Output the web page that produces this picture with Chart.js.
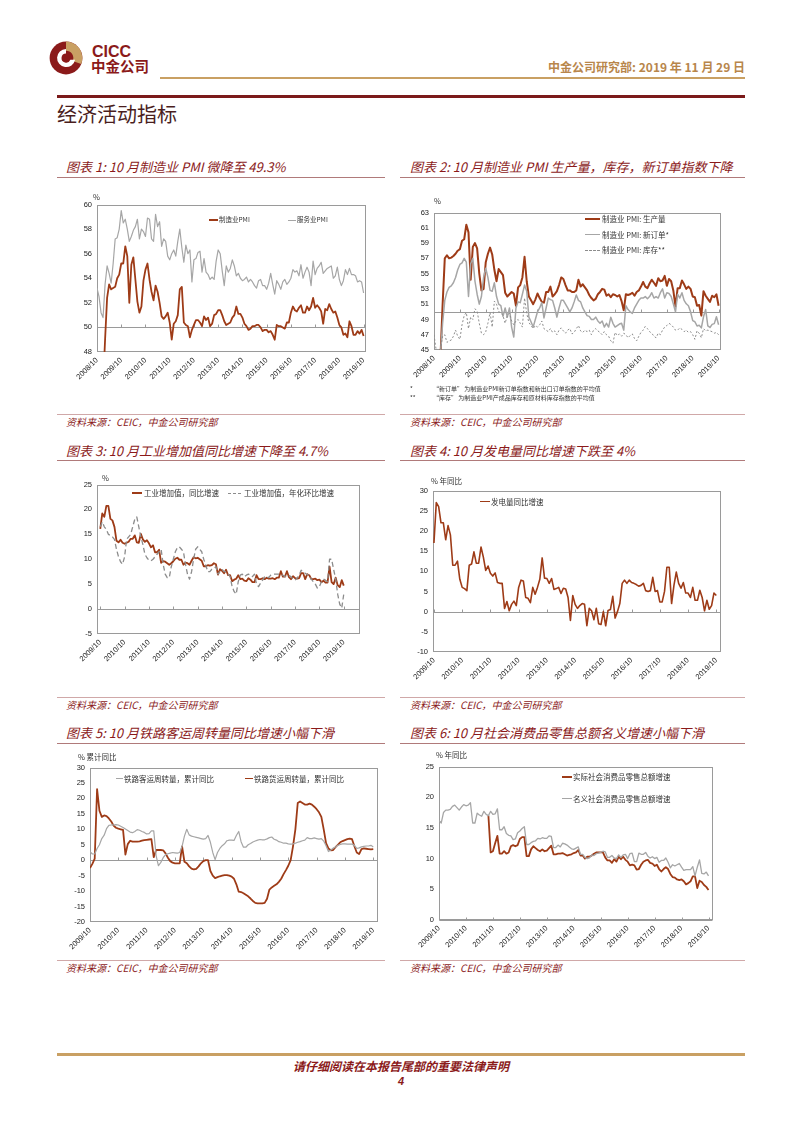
<!DOCTYPE html>
<html><head><meta charset="utf-8">
<script src="https://cdn.jsdelivr.net/npm/chart.js@4.4.1/dist/chart.umd.min.js"></script>
<style>
html,body{margin:0;padding:0;background:#fff}
body{width:802px;height:1133px;position:relative;overflow:hidden;font-family:"Noto Sans CJK SC","Noto Sans",sans-serif}
.a{position:absolute;white-space:nowrap;line-height:1}
.ttl{font-size:13px;font-style:italic;color:#8B1A1A}
.src{font-size:10px;font-style:italic;color:#8B1A1A}
.lg{font-size:7.5px;color:#333}
.un{font-size:7.5px;color:#333}
.hl{position:absolute;height:0}
.ls{position:absolute;height:0}
canvas{position:absolute}
</style></head><body>

<!-- header -->
<svg class="a" style="left:49px;top:41px" width="34" height="34" viewBox="0 0 28 28">
  <circle cx="14" cy="14" r="13.5" fill="#8B1A1A"/>
  <path d="M14 0.5 A13.5 13.5 0 0 1 26.5 19 L19.5 16.5 A6 6 0 0 0 14 8 Z" fill="#C9A063"/>
  <path d="M14 6.5 A7.5 7.5 0 1 0 21.5 15.5 L17.6 15.5 A3.8 3.8 0 1 1 14 10.2 Z" fill="#fff"/>
</svg>
<div class="a" style="left:92px;top:44px;font-size:16px;font-weight:bold;color:#8B1A1A;font-family:'Liberation Sans',Arial,sans-serif">CICC</div>
<div class="a" style="left:91px;top:59px;font-size:14.5px;font-weight:bold;color:#8B1A1A">中金公司</div>
<div class="hl" style="left:160px;top:77px;width:585px;border-top:2px solid #C9A063"></div>
<div class="a" style="right:57px;top:61px;font-size:12px;font-weight:bold;color:#B8864B">中金公司研究部: 2019 年 11 月 29 日</div>
<div class="hl" style="left:57px;top:95px;width:688px;border-top:3px solid #7B1A1A"></div>
<div class="a" style="left:57px;top:104px;font-size:20px;color:#4A1E1E">经济活动指标</div>

<!-- titles -->
<div class="a ttl" style="left:66px;top:160px">图表 1: 10 月制造业 PMI 微降至 49.3%</div>
<div class="a ttl" style="left:410px;top:160px">图表 2: 10 月制造业 PMI 生产量，库存，新订单指数下降</div>
<div class="hl" style="left:57px;top:177px;width:328px;border-top:1px solid #B07A7A"></div>
<div class="hl" style="left:400px;top:177px;width:345px;border-top:1px solid #B07A7A"></div>

<div class="a ttl" style="left:66px;top:444px">图表 3: 10 月工业增加值同比增速下降至 4.7%</div>
<div class="a ttl" style="left:410px;top:444px">图表 4: 10 月发电量同比增速下跌至 4%</div>
<div class="hl" style="left:57px;top:460px;width:328px;border-top:1px solid #B07A7A"></div>
<div class="hl" style="left:400px;top:460px;width:345px;border-top:1px solid #B07A7A"></div>

<div class="a ttl" style="left:66px;top:726px">图表 5: 10 月铁路客运周转量同比增速小幅下滑</div>
<div class="a ttl" style="left:410px;top:726px">图表 6: 10 月社会消费品零售总额名义增速小幅下滑</div>
<div class="hl" style="left:57px;top:743px;width:328px;border-top:1px solid #B07A7A"></div>
<div class="hl" style="left:400px;top:743px;width:345px;border-top:1px solid #B07A7A"></div>

<!-- sources -->
<div class="hl" style="left:57px;top:414px;width:328px;border-top:1px solid #D0A8A8"></div>
<div class="hl" style="left:400px;top:414px;width:345px;border-top:1px solid #D0A8A8"></div>
<div class="a src" style="left:66px;top:417px">资料来源：CEIC，中金公司研究部</div>
<div class="a src" style="left:410px;top:417px">资料来源：CEIC，中金公司研究部</div>
<div class="hl" style="left:57px;top:697px;width:328px;border-top:1px solid #D0A8A8"></div>
<div class="hl" style="left:400px;top:697px;width:345px;border-top:1px solid #D0A8A8"></div>
<div class="a src" style="left:66px;top:700px">资料来源：CEIC，中金公司研究部</div>
<div class="a src" style="left:410px;top:700px">资料来源：CEIC，中金公司研究部</div>
<div class="hl" style="left:57px;top:960px;width:328px;border-top:1px solid #D0A8A8"></div>
<div class="hl" style="left:400px;top:960px;width:345px;border-top:1px solid #D0A8A8"></div>
<div class="a src" style="left:66px;top:963px">资料来源：CEIC，中金公司研究部</div>
<div class="a src" style="left:410px;top:963px">资料来源：CEIC，中金公司研究部</div>

<!-- footer -->
<div class="hl" style="left:57px;top:1053px;width:688px;border-top:3px solid #C9A063"></div>
<div class="a" style="left:0;width:802px;text-align:center;top:1060px;font-size:12px;font-style:italic;font-weight:bold;color:#8B1A1A">请仔细阅读在本报告尾部的重要法律声明</div>
<div class="a" style="left:0;width:802px;text-align:center;top:1076px;font-size:11px;font-style:italic;font-weight:bold;color:#8B1A1A;font-family:'Liberation Sans',Arial,sans-serif">4</div>

<canvas id="c1"></canvas><canvas id="c2"></canvas><canvas id="c3"></canvas>
<canvas id="c4"></canvas><canvas id="c5"></canvas><canvas id="c6"></canvas>

<!-- unit labels -->
<div class="a un" style="left:93px;top:193px">%</div>
<div class="a un" style="left:434px;top:197px">%</div>
<div class="a un" style="left:102px;top:474px">%</div>
<div class="a un" style="left:431px;top:477px">% 年同比</div>
<div class="a un" style="left:78px;top:753px">% 累计同比</div>
<div class="a un" style="left:436px;top:751px">% 年同比</div>

<!-- legends chart1 -->
<div class="ls" style="left:209px;top:219px;width:9px;border-top:2px solid #9E3B17"></div>
<div class="a lg" style="left:219px;top:216px;font-size:6.5px">制造业PMI</div>
<div class="ls" style="left:288px;top:220px;width:8px;border-top:1px solid #A6A6A6"></div>
<div class="a lg" style="left:297px;top:216px;font-size:6.5px">服务业PMI</div>
<!-- chart2 -->
<div class="ls" style="left:585px;top:218px;width:15px;border-top:2px solid #9E3B17"></div>
<div class="a lg" style="left:602px;top:215px">制造业 PMI: 生产量</div>
<div class="ls" style="left:585px;top:234px;width:15px;border-top:1.5px solid #A6A6A6"></div>
<div class="a lg" style="left:602px;top:231px">制造业 PMI: 新订单*</div>
<div class="ls" style="left:585px;top:250px;width:15px;border-top:1px dashed #8C8C8C"></div>
<div class="a lg" style="left:602px;top:246px">制造业 PMI: 库存**</div>
<div class="a" style="left:410px;top:386px;font-size:6px;color:#333">*</div>
<div class="a" style="left:433px;top:386px;font-size:6px;color:#333">“新订单” 为制造业PMI新订单指数和新出口订单指数的平均值</div>
<div class="a" style="left:410px;top:395px;font-size:6px;color:#333">**</div>
<div class="a" style="left:433px;top:395px;font-size:6px;color:#333">“库存” 为制造业PMI产成品库存和原材料库存指数的平均值</div>
<!-- chart3 -->
<div class="ls" style="left:132px;top:492px;width:10px;border-top:2px solid #9E3B17"></div>
<div class="a lg" style="left:144px;top:489px">工业增加值，同比增速</div>
<div class="ls" style="left:228px;top:493px;width:13px;border-top:1px dashed #8C8C8C"></div>
<div class="a lg" style="left:244px;top:489px">工业增加值，年化环比增速</div>
<!-- chart4 -->
<div class="ls" style="left:480px;top:501px;width:10px;border-top:1.5px solid #9E3B17"></div>
<div class="a lg" style="left:491px;top:498px">发电量同比增速</div>
<!-- chart5 -->
<div class="ls" style="left:116px;top:778px;width:7px;border-top:1px solid #A6A6A6"></div>
<div class="a lg" style="left:124px;top:775px">铁路客运周转量，累计同比</div>
<div class="ls" style="left:245px;top:778px;width:8px;border-top:1.5px solid #9E3B17"></div>
<div class="a lg" style="left:254px;top:775px">铁路货运周转量，累计同比</div>
<!-- chart6 -->
<div class="ls" style="left:562px;top:776px;width:10px;border-top:2px solid #9E3B17"></div>
<div class="a lg" style="left:573px;top:773px">实际社会消费品零售总额增速</div>
<div class="ls" style="left:562px;top:798px;width:10px;border-top:1px solid #A6A6A6"></div>
<div class="a lg" style="left:573px;top:795px">名义社会消费品零售总额增速</div>

<script>
// ---------- categories ----------
function monthLabels(y, m, n){ const out=[]; for(let k=0;k<n;k++){ out.push(y+'/'+m); m++; if(m>12){m=1;y++;} } return out; }
const months2008 = monthLabels(2008,10,133);   // 2008/10 .. 2019/10
const months2009 = monthLabels(2009,10,121);   // 2009/10 .. 2019/10

// ---------- chart 1 ----------
const mfgPMI = [44.6,38.8,41.2,
 45.3,49.0,52.4,53.5,53.1,53.2,53.3,54.0,54.3,55.2,55.2,56.6,
 55.8,52.0,55.1,55.7,53.9,52.1,51.2,51.7,53.8,54.7,55.2,53.9,
 52.9,52.2,53.4,52.9,52.0,50.9,50.7,50.9,51.2,50.4,49.0,50.3,
 50.5,51.0,53.1,53.3,50.4,50.2,50.1,49.2,49.8,50.2,50.6,50.6,
 50.4,50.1,50.9,50.6,50.8,50.1,50.3,51.0,51.1,51.4,51.4,51.0,
 50.5,50.2,50.3,50.4,50.8,51.0,51.7,51.1,51.1,50.8,50.3,50.1,
 49.8,49.9,50.1,50.1,50.2,50.2,50.0,49.7,49.8,49.8,49.6,49.7,
 49.4,49.0,50.2,50.1,50.1,50.0,49.9,50.4,50.4,51.2,51.7,51.4,
 51.3,51.6,51.8,51.2,51.2,51.7,51.4,51.7,52.4,51.6,51.8,51.6,
 51.3,50.3,51.5,51.4,51.9,51.5,51.2,51.3,50.8,50.2,50.0,49.4,
 49.5,49.2,50.5,50.1,49.4,49.4,49.7,49.5,49.8,49.3];
const svcPMI = [53.2,52.5,51.2,50.8,53.5,55.0,54.4,53.6,55.2,57.2,57.3,58.0,59.5,58.5,58.8,58.0,57.0,57.4,57.9,58.2,
 58.8,57.2,58.0,57.8,57.4,58.9,58.8,57.2,57.0,59.2,58.2,58.6,56.6,57.2,57.0,55.8,55.5,56.0,56.3,55.8,
 57.0,58.0,56.5,55.3,56.7,56.0,56.3,53.7,55.5,55.6,56.1,
 56.2,54.5,55.6,54.5,54.3,53.9,54.1,53.9,55.4,56.3,56.0,54.6,
 53.4,55.0,54.5,54.8,55.5,55.0,54.2,54.4,54.0,53.8,53.9,54.1,
 53.7,53.9,53.7,53.4,53.2,53.8,53.9,53.4,53.4,53.1,53.6,54.4,
 53.5,52.7,53.8,53.5,53.1,53.7,53.9,53.5,53.7,54.0,54.7,54.5,
 54.6,54.2,55.1,54.0,54.5,54.9,54.5,53.4,55.4,54.3,54.8,55.0,
 55.3,54.4,54.6,54.8,54.9,55.0,54.0,54.2,54.9,53.9,53.4,53.8,
 54.7,54.3,54.8,54.3,54.3,54.2,53.7,53.8,53.7,52.8];

// ---------- chart 2 ----------
const pmiOutput = [43.0,35.0,40.0,44.0,51.0,57.0,57.4,57.0,57.1,57.3,
 57.6,58.0,58.2,59.3,59.5,61.4,60.4,54.2,58.5,59.0,
 58.3,55.0,52.8,53.0,56.5,57.6,58.4,57.5,55.5,54.0,
 55.6,55.2,54.8,52.5,52.0,52.3,52.6,52.4,50.8,53.2,
 53.5,54.5,57.2,54.0,52.0,51.5,51.0,51.6,52.4,51.8,
 51.3,51.2,52.6,52.6,53.3,52.0,52.3,52.7,53.5,54.5,
 54.3,53.5,52.8,52.8,52.6,52.6,52.8,54.2,53.3,53.6,
 53.2,52.8,52.2,51.8,51.5,51.7,52.3,52.6,53.0,52.9,
 52.1,52.3,51.9,52.3,52.2,52.0,52.2,
 51.4,50.2,52.3,52.2,52.3,52.5,52.1,52.6,52.8,53.3,53.9,53.3,
 53.1,53.7,54.2,53.8,53.4,54.4,54.0,54.1,54.7,53.4,54.3,54.0,
 52.8,50.7,53.1,53.1,54.1,53.6,53.0,53.3,53.0,52.0,51.9,50.8,
 50.9,49.5,52.7,52.1,51.7,51.3,52.1,51.9,52.3,50.8];
const pmiNewOrders = [43,36,40,44.5,48.5,51.5,52.6,53.2,53.4,53.8,
 54.5,55.5,56.2,56.4,57.0,56.5,52.0,56.3,57.0,54.0,
 52.3,51.0,52.0,54.5,55.7,54.5,52.8,52.7,53.8,52.0,
 51.0,50.8,49.4,50.5,49.3,50.5,48.0,46.7,50.5,51.3,
 51.2,52.3,53.5,52.7,49.3,48.7,48.0,49.0,50.0,50.5,
 51.2,49.2,50.5,51.8,51.6,51.5,50.5,49.3,50.5,51.5,
 51.5,51.0,50.5,50.0,50.5,51.3,52.2,51.5,51.3,50.5,
 50.0,49.5,49.4,49.0,49.0,49.3,48.8,48.5,48.8,48.0,
 48.5,48.0,49.3,48.5,48.0,48.2,48.4,
 48.5,47.6,50.8,50.3,50.0,49.8,50.5,51.0,51.5,51.8,51.8,52.0,
 51.7,52.0,52.5,51.8,52.0,51.8,52.5,53.0,51.8,52.5,52.4,52.0,
 51.05,50.0,52.3,51.8,52.5,51.5,51.05,50.8,50.0,48.85,48.7,48.15,
 48.25,47.9,49.35,50.3,48.15,47.95,48.35,48.45,49.35,48.3];
const pmiInventory = [47.0,45.0,44.5,45.2,46.8,47.0,46.0,46.2,46.3,46.8,
 47.6,46.8,46.4,48.3,49.5,49.9,47.8,49.3,49.0,50.4,
 50.1,48.5,47.2,47.0,47.4,48.5,49.9,48.0,51.4,51.0,
 50.0,49.9,49.5,48.5,49.5,49.8,48.8,48.3,48.8,49.0,
 48.5,48.0,51.8,49.8,48.6,48.2,47.8,48.2,48.0,48.3,
 48.8,47.8,47.6,47.4,47.8,47.3,47.5,47.0,47.6,47.9,
 47.5,47.2,47.6,47.8,47.1,47.3,47.8,48.2,47.5,47.3,
 47.6,47.4,47.6,47.0,47.6,47.8,47.5,47.3,47.0,47.4,
 47.0,46.8,46.2,45.9,47.3,46.9,47.1,46.8,47.2,47.0,
 46.6,46.9,47.1,46.5,46.2,46.8,47.3,47.6,48.1,47.8,
 47.4,47.2,46.8,46.6,47.2,47.0,47.6,48.0,48.2,48.5,
 48.3,48.0,47.6,47.6,47.9,47.7,47.4,47.6,47.3,47.4,
 47.0,46.4,47.5,47.2,46.6,47.8,47.5,47.6,47.5,47.4,
 47.2,47.3,47.0];

// ---------- chart 3 ----------
const ipYoY = [16.1,19.2,18.5,
 20.7,20.7,18.1,17.8,16.5,13.7,13.4,13.9,13.3,13.1,13.3,13.5,
 14.1,14.1,14.8,13.4,13.3,15.1,14.0,13.5,13.8,13.2,12.4,12.8,
 11.4,11.4,11.9,9.3,9.6,9.5,9.2,8.9,9.2,9.6,10.1,10.3,
 9.9,9.9,8.9,9.3,9.2,8.9,9.7,10.4,10.2,10.3,10.0,9.7,
 8.6,8.6,8.8,8.7,8.8,9.2,9.0,6.9,8.0,7.7,7.2,7.9,
 6.8,6.8,5.6,5.9,6.1,6.8,6.0,6.1,5.7,5.6,6.2,5.9,
 5.4,5.4,6.8,6.0,6.0,6.2,6.0,6.3,6.1,6.1,6.2,6.0,
 6.3,6.3,7.6,6.5,6.5,7.6,6.4,6.0,6.6,6.2,6.1,6.2,
 7.2,7.2,6.0,7.0,6.8,6.0,6.0,6.1,5.8,5.9,5.4,5.7,
 5.3,5.3,8.5,5.4,5.0,6.3,4.8,4.4,5.8,4.7];
const ipSAAR = [16.5,17.5,16.5,16.0,15.0,14.8,14.5,14.0,12.0,10.5,
 9.5,9.0,10.5,14.0,14.5,15.0,16.5,18.0,18.5,16.5,
 14.5,13.0,11.0,10.3,9.8,9.7,10.0,10.5,11.0,11.5,
 12.0,9.0,7.0,6.3,6.3,8.5,10.0,11.5,12.3,12.5,
 12.0,11.5,9.0,7.0,6.0,7.5,10.0,12.0,12.5,12.0,
 11.5,10.0,8.8,7.5,7.5,8.0,8.2,8.5,7.0,7.5,
 8.0,7.5,7.5,7.0,6.5,4.5,3.5,3.0,5.5,6.8,
 7.0,6.5,6.8,7.0,6.8,6.5,7.0,5.0,4.5,5.2,
 5.8,6.5,6.5,6.3,6.8,7.0,7.0,7.0,7.0,7.0,
 6.8,6.5,6.7,6.8,6.5,6.0,5.8,6.2,6.8,7.8,
 7.5,7.2,6.9,6.8,6.0,5.5,5.0,4.2,4.5,5.5,
 6.0,5.8,5.5,10.0,10.0,8.0,6.0,3.0,1.0,0.2,3.0];

// ---------- chart 4 ----------
const powerYoY = [17,27,26,22,22,17.8,21.3,19,11.5,11.5,
 12.5,8,6,5.7,5.2,11.5,11.8,14.8,12,12,
 16,13.5,10.2,11.3,9.5,8.8,9.6,7.2,7,7,
 0.8,2.5,0.2,1.8,2.6,1.5,6,7.8,7.6,3.5,
 3.3,2.2,6,4.3,6,8,13.3,8.3,8.2,7,
 8.2,5.5,5.7,6,4.5,5.8,5.6,3.5,-2.2,4,
 1.8,0.8,1.5,2,1.8,-3.5,0.8,0.2,-2,0.8,
 -3,-3.2,0,-3.5,0.3,0.5,3.8,-1.6,0,2,
 7,7.8,7,7.8,7.2,7,6.7,6.3,6.5,7,
 5.2,5,5.2,8.5,5,5.2,2.4,2.4,5,11,
 11,2,6.5,9.8,7,5.8,7.2,4.6,4.6,3.5,
 6,2.8,2.8,5.3,3.5,0.2,2.8,0.6,1.5,4.6,4];

// ---------- chart 5 ----------
const railPassenger = [2.8,2.0,2.0,3.8,5.0,7.0,8.1,10.2,11.3,11.4,
 11.4,11.5,11.4,11.0,10.6,10.1,9.6,9.1,8.9,9.3,
 9.9,9.7,9.3,9.0,8.5,8.6,9.5,9.5,1.5,-1.8,
 -0.7,0.8,1.8,2.1,2.3,2.5,2.4,2.3,2.5,4.5,
 7.8,10.0,8.2,7.8,7.6,7.4,7.2,7.0,6.8,7.0,
 8.0,5.8,2.5,0.2,2.5,3.8,4.7,5.3,6.3,6.5,
 6.5,6.4,8.0,9.3,6.0,4.2,4.2,5.0,5.4,5.9,
 6.2,6.5,6.7,6.6,6.6,6.9,7.3,7.5,6.8,6.5,
 6.0,5.8,5.5,5.5,5.3,5.2,5.3,5.5,5.8,6.0,
 6.3,6.5,7.3,7.0,7.0,7.2,7.0,6.8,7.0,6.2,
 4.7,2.8,3.3,3.9,4.3,4.8,5.1,5.3,5.3,5.2,
 5.2,5.2,4.8,3.8,4.0,4.3,4.5,4.6,4.6,4.8,4.3];
const railFreight = [-2.5,-1.2,0.5,23.0,16.0,14.0,14.5,14.3,13.5,12.5,
 11.2,10.5,10.2,10.0,9.8,1.8,5.2,6.3,6.0,6.0,
 6.0,6.1,6.3,6.5,6.6,6.7,6.8,1.0,3.3,3.3,
 3.3,3.2,2.2,0.8,-0.3,-0.8,-1.0,-1.0,-1.0,4.5,
 -0.5,-1.0,-2.0,-2.7,-3.0,-2.8,-2.0,-1.0,-0.3,0.0,
 0.0,-3.5,-5.0,-5.8,-5.5,-5.2,-5.0,-4.8,-4.8,-5.0,
 -5.3,-6.0,-7.8,-10.2,-10.3,-10.7,-11.2,-11.7,-12.4,-13.2,
 -13.8,-14.0,-14.0,-14.0,-13.8,-12.5,-9.5,-8.8,-8.3,-7.8,
 -7.0,-6.0,-4.5,-3.2,-1.8,0.0,4.5,10.0,18.5,19.0,
 18.5,18.0,18.0,18.3,18.0,17.3,16.5,15.5,14.0,10.0,
 5.5,3.8,3.2,3.3,4.2,5.0,5.8,6.2,6.5,6.8,
 7.0,6.8,4.5,2.5,2.0,3.6,3.8,3.7,3.6,3.5,3.6];

// ---------- chart 6 ----------
const retailReal = [null,null,null,null,null,null,null,null,null,null,
 null,null,null,null,null,null,null,null,null,null,null,null,
 17.0,11.0,11.2,12.5,13.7,10.8,10.8,11.2,10.8,11.0,
 12.0,12.2,12.0,12.2,13.2,13.5,13.5,10.4,10.4,11.5,
 12.0,11.7,11.4,11.2,11.5,11.2,11.3,11.7,12.1,10.7,
 10.7,10.8,10.8,10.9,10.7,10.5,10.6,10.7,10.9,11.0,
 11.4,10.5,10.5,10.0,10.3,10.3,10.5,10.8,11.0,11.0,
 11.0,11.0,10.2,9.7,9.7,9.3,9.9,9.5,10.3,9.9,
 10.3,9.8,9.5,8.9,9.0,8.9,8.2,8.3,9.0,9.5,
 9.7,9.8,9.3,9.2,8.8,9.0,8.3,7.9,8.3,8.6,
 8.3,7.5,7.0,6.9,6.6,6.5,6.6,6.3,5.8,6.0,
 6.3,7.1,7.1,5.2,6.4,6.2,5.7,5.4,4.9];
const retailNominal = [16.2,15.8,17.5,
 17.9,17.9,18.0,18.5,18.7,18.3,17.9,18.4,18.8,18.6,18.7,19.1,
 15.8,15.8,17.4,17.1,16.9,17.7,17.2,17.0,17.7,17.2,17.3,18.1,
 14.7,14.7,15.2,14.1,13.8,13.7,13.1,13.2,14.2,14.5,14.9,15.2,
 12.3,12.3,12.6,12.8,12.9,13.3,13.2,13.4,13.3,13.3,13.7,13.6,
 11.8,11.8,12.2,11.9,12.5,12.4,12.2,11.9,11.6,11.5,11.7,11.9,
 10.7,10.7,10.2,10.0,10.1,10.6,10.5,10.8,10.9,11.0,11.2,11.1,
 10.2,10.2,10.5,10.1,10.0,10.6,10.2,10.6,10.7,10.0,10.8,10.9,
 9.5,9.5,10.9,10.7,10.7,11.0,10.4,10.1,10.3,10.0,10.2,9.4,
 9.7,9.7,10.1,9.4,8.5,9.0,8.8,9.0,9.2,8.6,8.1,8.2,
 8.2,8.2,8.7,7.2,8.6,9.8,7.6,7.5,7.8,7.2];

// ---------- styles ----------
const RED = '#9E3B17', GRAY = '#A6A6A6', DGRAY = '#8C8C8C';
const TICKFONT = {family:"'Liberation Sans', Arial, sans-serif", size:7.5};

const framePlugin = {
  id:'frame',
  beforeDatasetsDraw(chart, args, opts){
    const {ctx, chartArea:a, scales} = chart;
    ctx.save();
    ctx.strokeStyle = '#9A9A9A'; ctx.lineWidth = 1;
    const L = Math.round(a.left)+0.5, T = Math.round(a.top)+0.5, R = Math.round(a.right)-0.5, B = Math.round(a.bottom)-0.5;
    ctx.strokeRect(L, T, R-L, B-T);
    if (opts.ref !== undefined){
      const yy = Math.round(scales.y.getPixelForValue(opts.ref))+0.5;
      ctx.beginPath(); ctx.moveTo(L, yy); ctx.lineTo(R, yy); ctx.stroke();
      ctx.beginPath();
      (opts.ticks||[]).forEach(v=>{ const xx = Math.round(scales.x.getPixelForValue(v))+0.5; ctx.moveTo(xx, yy); ctx.lineTo(xx, yy-3); });
      ctx.stroke();
    }
    ctx.restore();
  }
};

function series(arr, color, width, dash){
  return { data: arr.map((v,i)=> v==null?null:{x:i,y:v}).filter(p=>p),
    borderColor:color, borderWidth:width, borderDash:dash||[], pointRadius:0,
    fill:false, tension:0, clip:0, borderJoinStyle:'round', spanGaps:false };
}

function build(id, plot, cats, xmin, xmax, ymin, ymax, step, ref, sets){
  const YW=28, PT=8, PR=6, XH=46;
  const cv = document.getElementById(id);
  const L = Math.round(plot.l - YW), T = Math.round(plot.t - PT);
  const W = Math.round(plot.r - L + PR), H = Math.round(plot.b - T + XH);
  cv.style.left = L+'px'; cv.style.top = T+'px';
  cv.width = W; cv.height = H; cv.style.width = W+'px'; cv.style.height = H+'px';
  const oct = []; cats.forEach((c,i)=>{ if (c.endsWith('/10')) oct.push(i); });
  new Chart(cv, {
    type:'line',
    data:{datasets:sets},
    options:{
      responsive:false, animation:false, devicePixelRatio:1,
      layout:{padding:{top:PT, right:PR, left:0, bottom:0}},
      plugins:{legend:{display:false}, tooltip:{enabled:false}, frame:{ref:ref, ticks:oct}},
      scales:{
        x:{type:'linear', min:xmin, max:xmax,
           grid:{display:false, drawTicks:false}, border:{display:false},
           afterBuildTicks:(s)=>{ s.ticks = oct.map(v=>({value:v})); },
           afterFit:(s)=>{ s.height = XH; },
           ticks:{autoSkip:false, minRotation:45, maxRotation:45, padding:4, font:TICKFONT, color:'#222',
                  callback:(v)=> cats[v] || ''}},
        y:{type:'linear', min:ymin, max:ymax,
           grid:{display:false, drawTicks:false}, border:{display:false},
           afterFit:(s)=>{ s.width = YW; },
           ticks:{stepSize:step, padding:5, font:TICKFONT, color:'#222'}}
      }
    },
    plugins:[framePlugin]
  });
}

build('c1', {l:97, r:368, t:203, b:352}, months2008, 0, 133, 48, 60, 2, 50,
  [series(svcPMI, GRAY, 1.2), series(mfgPMI, RED, 1.8)]);
build('c2', {l:434, r:723, t:211, b:350}, months2008, 0, 133, 45, 63, 2, 50,
  [series(pmiInventory, DGRAY, 1, [2,2]), series(pmiNewOrders, GRAY, 1.5), series(pmiOutput, RED, 2)]);
build('c3', {l:97, r:360, t:483, b:634}, months2009, -1.6, 128, -5, 25, 5, 0,
  [series(ipSAAR, DGRAY, 1.3, [5,3]), series(ipYoY, RED, 1.8)]);
build('c4', {l:433, r:721, t:489, b:652}, months2009, -0.4, 122, -10, 30, 5, 0,
  [series(powerYoY, RED, 1.6)]);
build('c5', {l:90, r:378, t:766, b:922}, months2009, 0, 122, -20, 30, 5, 0,
  [series(railPassenger, GRAY, 1.2), series(railFreight, RED, 1.8)]);
build('c6', {l:439, r:713, t:765, b:920}, months2009, 0, 122, 0, 25, 5, 0,
  [series(retailNominal, GRAY, 1.3), series(retailReal, RED, 1.8)]);
</script>
</body></html>
